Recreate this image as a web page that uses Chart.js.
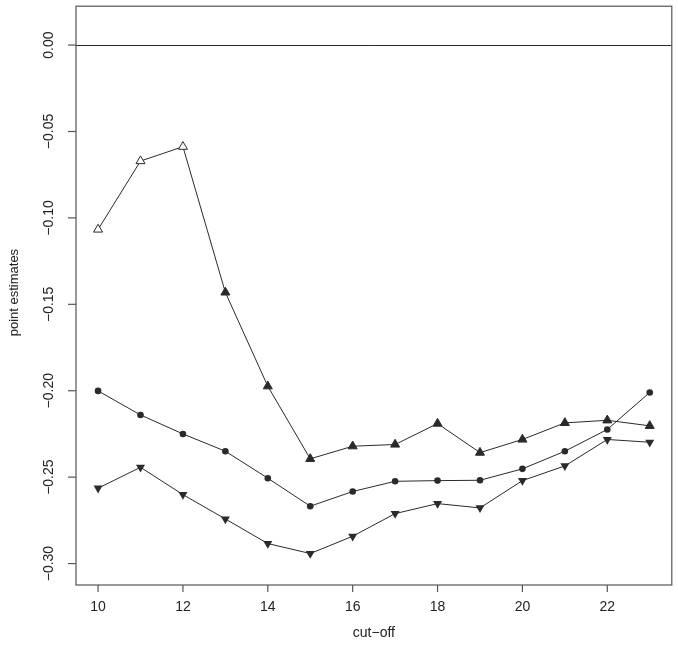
<!DOCTYPE html>
<html lang="en">
<head>
    <meta charset="UTF-8">
    <title>point estimates by cut-off</title>
    <script src="https://cdn.jsdelivr.net/npm/chart.js"></script>
    <style>
        html, body { margin: 0; padding: 0; background: #ffffff; }
        #wrap { width: 678px; height: 645px; }
    </style>
</head>
<body>
    <div id="wrap"><canvas id="estChart"></canvas></div>

    <script>
        // values
        const cutoffs = [10, 11, 12, 13, 14, 15, 16, 17, 18, 19, 20, 21, 22, 23];
        const upperEst = [-0.1067, -0.0671, -0.0588, -0.1431, -0.1974, -0.2394, -0.2321, -0.2311, -0.2190, -0.2358, -0.2282, -0.2186, -0.2171, -0.2203];
        const middleEst = [-0.2001, -0.2140, -0.2250, -0.2350, -0.2506, -0.2668, -0.2583, -0.2524, -0.2520, -0.2518, -0.2452, -0.2350, -0.2224, -0.2010];
        const lowerEst = [-0.2564, -0.2443, -0.2601, -0.2742, -0.2884, -0.2942, -0.2842, -0.2711, -0.2653, -0.2678, -0.2520, -0.2435, -0.2282, -0.2298];
        const openUpper = 3; // first points of the upper series are hollow
        const xTicks = [10, 12, 14, 16, 18, 20, 22];
        const yTicks = [0, -0.05, -0.10, -0.15, -0.20, -0.25, -0.30];
        const xTitle = 'cut-off';
        const yTitle = 'point estimates';

        const ink = '#2a2a2a';
        const boxInk = '#555555';
        const font = '"Liberation Sans", Arial, Helvetica, sans-serif';

        const toPoints = arr => arr.map((v, i) => ({ x: cutoffs[i], y: v }));

        // R style box, ticks, labels and the zero line
        const rAxes = {
            id: 'rAxes',
            beforeDatasetsDraw(chart) {
                const { ctx, chartArea: a, scales: { y } } = chart;
                ctx.save();
                ctx.lineWidth = 1;
                ctx.strokeStyle = ink;
                const y0 = Math.round(y.getPixelForValue(0)) + 0.5;
                ctx.beginPath();
                ctx.moveTo(a.left, y0);
                ctx.lineTo(a.right, y0);
                ctx.stroke();
                ctx.restore();
            },
            afterDraw(chart) {
                const { ctx, chartArea: a, scales: { x, y } } = chart;
                ctx.save();
                ctx.strokeStyle = boxInk;
                ctx.lineWidth = 1.2;
                ctx.strokeRect(a.left, a.top, a.right - a.left, a.bottom - a.top);

                ctx.fillStyle = '#222';
                ctx.font = '14px ' + font;
                ctx.textAlign = 'center';
                ctx.textBaseline = 'middle';

                xTicks.forEach(v => {
                    const px = x.getPixelForValue(v);
                    ctx.beginPath();
                    ctx.moveTo(px, a.bottom);
                    ctx.lineTo(px, a.bottom + 7);
                    ctx.stroke();
                    ctx.fillText(String(v), px, a.bottom + 22);
                });

                yTicks.forEach(v => {
                    const py = y.getPixelForValue(v);
                    ctx.beginPath();
                    ctx.moveTo(a.left, py);
                    ctx.lineTo(a.left - 8, py);
                    ctx.stroke();
                    ctx.save();
                    ctx.translate(a.left - 27, py);
                    ctx.rotate(-Math.PI / 2);
                    ctx.fillText(v.toFixed(2).replace('-', '\u2212'), 0, 0);
                    ctx.restore();
                });

                ctx.font = '14px ' + font;
                ctx.fillText(xTitle.replace('-', '\u2212'), (a.left + a.right) / 2, a.bottom + 48);
                ctx.font = '13px ' + font;
                ctx.save();
                ctx.translate(14, (a.top + a.bottom) / 2 - 3);
                ctx.rotate(-Math.PI / 2);
                ctx.fillText(yTitle, 0, 0);
                ctx.restore();
                ctx.restore();
            }
        };

        const ctx = document.getElementById('estChart').getContext('2d');

        const estChart = new Chart(ctx, {
            type: 'line',
            data: {
                datasets: [
                    {
                        label: 'upper',
                        data: toPoints(upperEst),
                        borderColor: ink,
                        borderWidth: 1,
                        pointStyle: 'triangle',
                        pointRadius: 5.2,
                        pointBorderWidth: 1,
                        pointBorderColor: ink,
                        pointBackgroundColor: c => c.dataIndex < openUpper ? '#ffffff' : ink
                    },
                    {
                        label: 'middle',
                        data: toPoints(middleEst),
                        borderColor: ink,
                        borderWidth: 1,
                        pointStyle: 'circle',
                        pointRadius: 3.3,
                        pointBorderWidth: 0,
                        pointBackgroundColor: ink
                    },
                    {
                        label: 'lower',
                        data: toPoints(lowerEst),
                        borderColor: ink,
                        borderWidth: 1,
                        pointStyle: 'triangle',
                        rotation: 180,
                        pointRadius: 5.2,
                        pointBorderWidth: 0,
                        pointBackgroundColor: ink
                    }
                ]
            },
            options: {
                responsive: true,
                maintainAspectRatio: false,
                animation: false,
                layout: {
                    padding: { left: 76, right: 6, top: 6, bottom: 60 }
                },
                scales: {
                    x: {
                        type: 'linear',
                        min: 9.48,
                        max: 23.52,
                        display: false
                    },
                    y: {
                        type: 'linear',
                        min: -0.3124,
                        max: 0.0225,
                        display: false
                    }
                },
                plugins: {
                    legend: { display: false },
                    tooltip: { enabled: false }
                },
                elements: {
                    line: { tension: 0 }
                }
            },
            plugins: [rAxes]
        });
    </script>
</body>
</html>
